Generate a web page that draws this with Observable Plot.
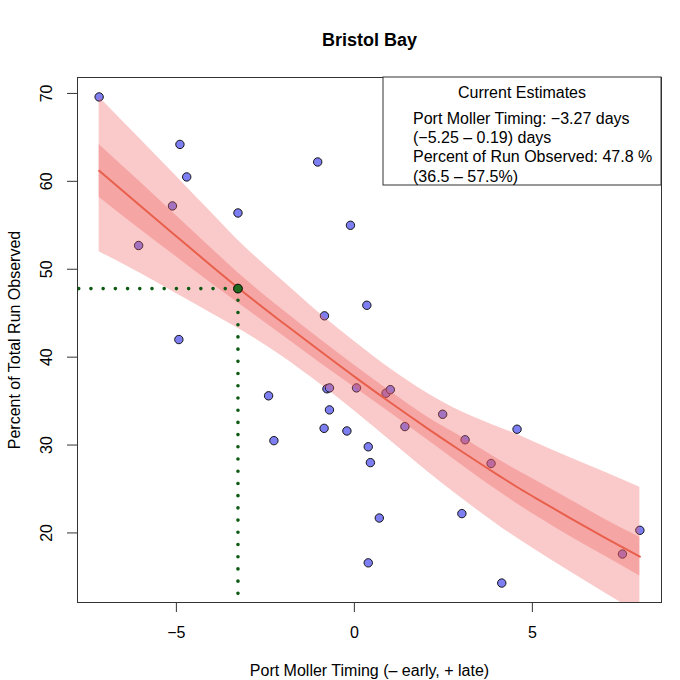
<!DOCTYPE html>
<html>
<head>
<meta charset="utf-8">
<script src="https://cdn.jsdelivr.net/npm/d3@7"></script>
<script src="https://cdn.jsdelivr.net/npm/@observablehq/plot@0.6"></script>
<style>
  html, body { margin: 0; padding: 0; background: #ffffff; }
  #chart svg { display: block; }
</style>
</head>
<body>
<div id="chart"></div>
<script>
// ---- Data ----
const chartTitle = "Bristol Bay";
const xLabel = "Port Moller Timing (– early, + late)";
const yLabel = "Percent of Total Run Observed";

// Observed years: Port Moller timing (days) and percent of run observed
const timing  = [-7.17, -4.90, -4.71, -5.11, -6.06, -3.27, -1.03, -0.11, 0.35, -0.84,
                 -4.93, -2.41, -0.77, -0.70, 0.06, 0.89, 1.01, -0.70, -0.85, -0.21,
                 -2.26, 0.39, 0.45, 1.42, 2.48, 3.11, 3.84, 4.57, 0.70, 3.02,
                 0.39, 4.14, 8.02, 7.53];
const percent = [69.6, 64.2, 60.5, 57.2, 52.7, 56.4, 62.2, 55.0, 45.9, 44.7,
                 42.0, 35.6, 36.4, 36.5, 36.5, 35.9, 36.3, 34.0, 31.9, 31.6,
                 30.5, 29.8, 28.0, 32.1, 33.5, 30.6, 27.9, 31.8, 21.7, 22.2,
                 16.6, 14.3, 20.3, 17.6];

// Fitted curve with confidence band (dark) and prediction band (light)
const fitTiming  = [-7.17, -6.04, -5.03, -4.02, -3.27, -1.99, -0.98, 0.03, 1.04, 2.05, 3.06, 4.07, 4.58, 5.08, 6.10, 7.11, 8.02];
const fitPercent = [61.2, 57.3, 53.85, 50.4, 47.9, 43.85, 40.75, 37.7, 34.75, 31.9, 29.15, 26.5, 25.2, 24.0, 21.6, 19.3, 17.3];
const ciLow      = [58.2, 54.6, 51.5, 48.4, 46.2, 42.4, 39.4, 36.5, 33.6, 30.6, 27.6, 24.7, 23.3, 22.0, 19.5, 17.2, 15.1];
const ciHigh     = [64.2, 60.0, 56.2, 52.4, 49.6, 45.3, 42.1, 39.0, 36.0, 33.2, 30.8, 28.3, 27.1, 26.0, 23.7, 21.4, 19.5];
const piLow      = [52.0, 49.6, 47.3, 45.0, 43.3, 40.0, 37.0, 33.8, 30.4, 27.0, 23.8, 20.8, 19.4, 18.1, 15.5, 13.0, 10.8];
const piHigh     = [69.6, 64.9, 60.7, 56.45, 53.3, 48.6, 45.0, 41.7, 38.6, 35.9, 33.7, 32.0, 31.2, 30.3, 28.5, 26.8, 25.2];

// Current estimate
const estTiming = -3.27;
const estPercent = 47.8;

const xTicks = [-5, 0, 5];
const yTicks = [20, 30, 40, 50, 60, 70];

const legendTitle = "Current Estimates";
const legendLines = [
  "Port Moller Timing: −3.27 days",
  "(−5.25 – 0.19) days",
  "Percent of Run Observed: 47.8 %",
  "(36.5 – 57.5%)"
];

// ---- Build tables ----
const obs = timing.map((t, i) => ({t, p: percent[i]}));
const fit = fitTiming.map((t, i) => ({t, p: fitPercent[i], lo: ciLow[i], hi: ciHigh[i], plo: piLow[i], phi: piHigh[i]}));
const est = [{t: estTiming, p: estPercent}];

// R-style 4% axis extension
function extend([a, b]) { const d = (b - a) * 0.04; return [a - d, b + d]; }
const xDomain = extend(d3.extent(timing));
const yDomain = extend(d3.extent(percent));

const W = 680, H = 680, mL = 77, mR = 19, mT = 77, mB = 78;
const font = "'Liberation Sans', Arial, Helvetica, sans-serif";
const bandColor = "rgb(240,90,90)";
const green = "#0d5a12";

const chart = Plot.plot({
  width: W, height: H,
  marginLeft: mL, marginRight: mR, marginTop: mT, marginBottom: mB,
  style: {fontFamily: font, fontSize: "16px", background: "#ffffff", color: "#000000", overflow: "visible"},
  x: {domain: xDomain},
  y: {domain: yDomain},
  marks: [
    Plot.dot(obs, {x: "t", y: "p", r: 4.2, fill: "#7e7ef3", stroke: "#141414", strokeWidth: 1}),
    Plot.areaY(fit, {x: "t", y1: "plo", y2: "phi", fill: bandColor, fillOpacity: 0.33, curve: "monotone-x", clip: true}),
    Plot.areaY(fit, {x: "t", y1: "lo", y2: "hi", fill: bandColor, fillOpacity: 0.33, curve: "monotone-x", clip: true}),
    Plot.line(fit, {x: "t", y: "p", stroke: "#e8604c", strokeWidth: 2, curve: "monotone-x"}),
    Plot.ruleY([estPercent], {x1: estTiming, x2: xDomain[0], stroke: green, strokeWidth: 3.6, strokeDasharray: "0.01,12.2", strokeLinecap: "round"}),
    Plot.ruleX([estTiming], {y1: estPercent, y2: yDomain[0], stroke: green, strokeWidth: 3.6, strokeDasharray: "0.01,12.2", strokeLinecap: "round"}),
    Plot.dot(est, {x: "t", y: "p", r: 4.4, fill: "#1f6a1f", stroke: "#000000", strokeWidth: 1}),
    Plot.frame({stroke: "#333333", strokeWidth: 1}),
    Plot.axisX({ticks: xTicks, tickSize: 10, tickPadding: 14, label: null, fontSize: 16, stroke: "#333333"}),
    Plot.axisY({ticks: yTicks, tickSize: 10, tickFormat: () => "", label: null, stroke: "#333333"}),
    Plot.text(yTicks, {y: d => d, text: d => String(d), frameAnchor: "left", textAnchor: "middle", lineAnchor: "middle", rotate: -90, dx: -31, fontSize: 16}),
    Plot.text([chartTitle], {frameAnchor: "top", lineAnchor: "middle", textAnchor: "middle", dy: -37, fontWeight: "bold", fontSize: 18}),
    Plot.text([xLabel], {frameAnchor: "bottom", lineAnchor: "middle", textAnchor: "middle", dy: 68, fontSize: 16}),
    Plot.text([yLabel], {frameAnchor: "left", lineAnchor: "middle", textAnchor: "middle", rotate: -90, dx: -63, fontSize: 16})
  ]
});

// ---- Legend box (top-right corner of the plot region) ----
const svg = d3.select(chart);
const boxW = 278, boxH = 108;
const boxX = W - mR - boxW, boxY = mT;
const lg = svg.append("g").attr("font-family", font).attr("font-size", 16).attr("fill", "#000");
lg.append("rect").attr("x", boxX).attr("y", boxY).attr("width", boxW).attr("height", boxH)
  .attr("fill", "#ffffff").attr("stroke", "#333333").attr("stroke-width", 1);
lg.append("text").attr("x", boxX + boxW / 2).attr("y", boxY + 20.5).attr("text-anchor", "middle").text(legendTitle);
legendLines.forEach((s, i) => {
  lg.append("text").attr("x", boxX + 30).attr("y", boxY + 46.5 + i * 19.4).attr("text-anchor", "start").text(s);
});

document.getElementById("chart").appendChild(chart);
</script>
</body>
</html>
